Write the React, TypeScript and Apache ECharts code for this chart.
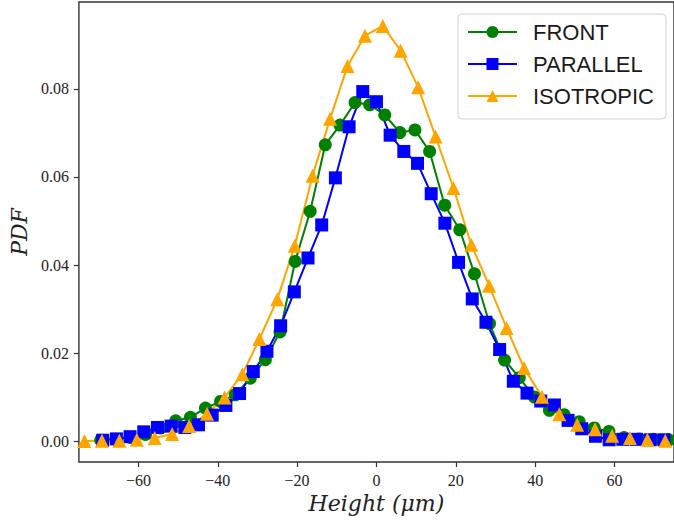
import React, { useEffect, useRef } from 'react';
import * as echarts from 'echarts';

const frontX = [-69.5, -65.7, -61.9, -58.2, -54.4, -50.6, -46.9, -43.1, -39.3, -35.6, -31.8, -28.0, -24.3, -20.5, -16.7, -12.9, -9.2, -5.4, -1.7, 2.1, 5.9, 9.7, 13.4, 17.2, 21.0, 24.7, 28.5, 32.3, 36.0, 39.8, 43.6, 47.3, 51.1, 54.9, 58.6, 62.4, 66.2, 69.9, 73.7];
const frontY = [0.0002, 0.0004, 0.0008, 0.0015, 0.0030, 0.0046, 0.0054, 0.0075, 0.0090, 0.0105, 0.0143, 0.0185, 0.0248, 0.0408, 0.0522, 0.0673, 0.0718, 0.0769, 0.0764, 0.0741, 0.0701, 0.0707, 0.0658, 0.0536, 0.0480, 0.0380, 0.0267, 0.0184, 0.0144, 0.0100, 0.0070, 0.0060, 0.0044, 0.0030, 0.0022, 0.0008, 0.0005, 0.0004, 0.0003];

const parallelX = [-69.0, -65.55, -62.1, -58.65, -55.2, -51.75, -48.3, -44.85, -41.4, -37.95, -34.5, -31.05, -27.6, -24.15, -20.7, -17.25, -13.8, -10.35, -6.9, -3.45, 0.0, 3.45, 6.9, 10.35, 13.8, 17.25, 20.7, 24.15, 27.6, 31.05, 34.5, 37.95, 41.4, 44.85, 48.3, 51.75, 55.2, 58.65, 62.1, 65.55, 69.0, 72.45];
const parallelY = [0.0002, 0.0005, 0.0010, 0.0021, 0.0031, 0.0034, 0.0031, 0.0037, 0.0059, 0.0081, 0.0108, 0.0158, 0.0204, 0.0262, 0.0339, 0.0416, 0.0491, 0.0598, 0.0714, 0.0794, 0.0771, 0.0695, 0.0658, 0.0631, 0.0562, 0.0495, 0.0406, 0.0323, 0.0270, 0.0208, 0.0136, 0.0109, 0.0091, 0.0082, 0.0047, 0.0028, 0.0011, 0.0003, 0.0004, 0.0004, 0.0003, 0.0003];

const isoX = [-73.6, -69.2, -64.8, -60.4, -55.9, -51.5, -47.2, -42.7, -38.3, -33.8, -29.5, -25.0, -20.6, -16.1, -11.7, -7.3, -2.9, 1.6, 6.1, 10.5, 14.9, 19.4, 23.9, 28.4, 32.8, 37.2, 41.7, 46.1, 50.6, 55.1, 59.4, 63.9, 68.3, 72.8];
const isoY = [0.0000, 0.0001, 0.0001, 0.0003, 0.0007, 0.0016, 0.0034, 0.0062, 0.0099, 0.0152, 0.0232, 0.0322, 0.0444, 0.0603, 0.0732, 0.0852, 0.0921, 0.0943, 0.0887, 0.0804, 0.0692, 0.0575, 0.0446, 0.0353, 0.0257, 0.0166, 0.0101, 0.0061, 0.0037, 0.0027, 0.0012, 0.0007, 0.0003, 0.0001];

const xTicks = [-60, -40, -20, 0, 20, 40, 60];
const yTicks = [0.0, 0.02, 0.04, 0.06, 0.08];

const pairs = (xs: number[], ys: number[]) => xs.map((x, i) => [x, ys[i]]);

export default function App() {
  const ref = useRef<HTMLDivElement>(null);
  useEffect(() => {
    const chart = echarts.init(ref.current!, null, { renderer: 'svg' });
    const tickFont = { fontFamily: 'Liberation Serif', fontSize: 16, color: '#222' };
    const mk = (name: string, xs: number[], ys: number[], color: string, symbol: string, size: number) => ({
      name,
      type: 'line',
      data: pairs(xs, ys),
      symbol,
      symbolSize: size,
      showSymbol: true,
      lineStyle: { color, width: 2 },
      itemStyle: { color, borderWidth: 0 },
      clip: true,
    });
    chart.setOption({
      animation: false,
      backgroundColor: '#fff',
      grid: { left: 77, top: 2, right: -5, bottom: 61, show: true, borderColor: '#333', borderWidth: 1.4, containLabel: false },
      legend: {
        show: true,
        orient: 'vertical',
        left: 458,
        top: 14,
        width: 212,
        itemWidth: 49,
        itemHeight: 15,
        itemGap: 10,
        padding: [7, 12, 12, 9],
        backgroundColor: '#fff',
        borderColor: '#d0d0d0',
        borderWidth: 1,
        borderRadius: 4,
        textStyle: { fontFamily: 'Liberation Sans', fontSize: 22, color: '#1a1a1a', lineHeight: 22, padding: [0, 0, 0, 11] },
        data: ['FRONT', 'PARALLEL', 'ISOTROPIC'],
      },
      xAxis: {
        type: 'value',
        min: -75,
        max: 75,
        axisLine: { show: false, onZero: false },
        splitLine: { show: false },
        axisTick: { show: true, customValues: xTicks, length: 5, lineStyle: { color: '#333', width: 1.2 } },
        axisLabel: {
          customValues: xTicks,
          margin: 10,
          ...tickFont,
          formatter: (v: number) => (v < 0 ? '\u2212' + Math.abs(v) : String(v)),
        },
        name: 'Height (\u03bcm)',
        nameLocation: 'middle',
        nameGap: 28,
        nameTextStyle: { fontFamily: 'DejaVu Serif', fontStyle: 'italic', fontSize: 22, color: '#222' },
      },
      yAxis: {
        type: 'value',
        min: -0.00475,
        max: 0.09975,
        axisLine: { show: false, onZero: false },
        splitLine: { show: false },
        axisTick: { show: true, customValues: yTicks, length: 5, lineStyle: { color: '#333', width: 1.2 } },
        axisLabel: {
          customValues: yTicks,
          margin: 10,
          ...tickFont,
          formatter: (v: number) => v.toFixed(2),
        },
        name: 'PDF',
        nameLocation: 'middle',
        nameGap: 44,
        nameRotate: 90,
        nameTextStyle: { fontFamily: 'DejaVu Serif', fontStyle: 'italic', fontSize: 22, color: '#222' },
      },
      series: [
        mk('FRONT', frontX, frontY, '#008000', 'circle', 13),
        mk('PARALLEL', parallelX, parallelY, '#0000ff', 'rect', 13),
        mk('ISOTROPIC', isoX, isoY, '#ffa500', 'triangle', 14),
      ],
    });
    return () => chart.dispose();
  }, []);
  return <div ref={ref} style={{ position: 'fixed', left: 0, top: 0, width: 674, height: 523, background: '#fff' }} />;
}
